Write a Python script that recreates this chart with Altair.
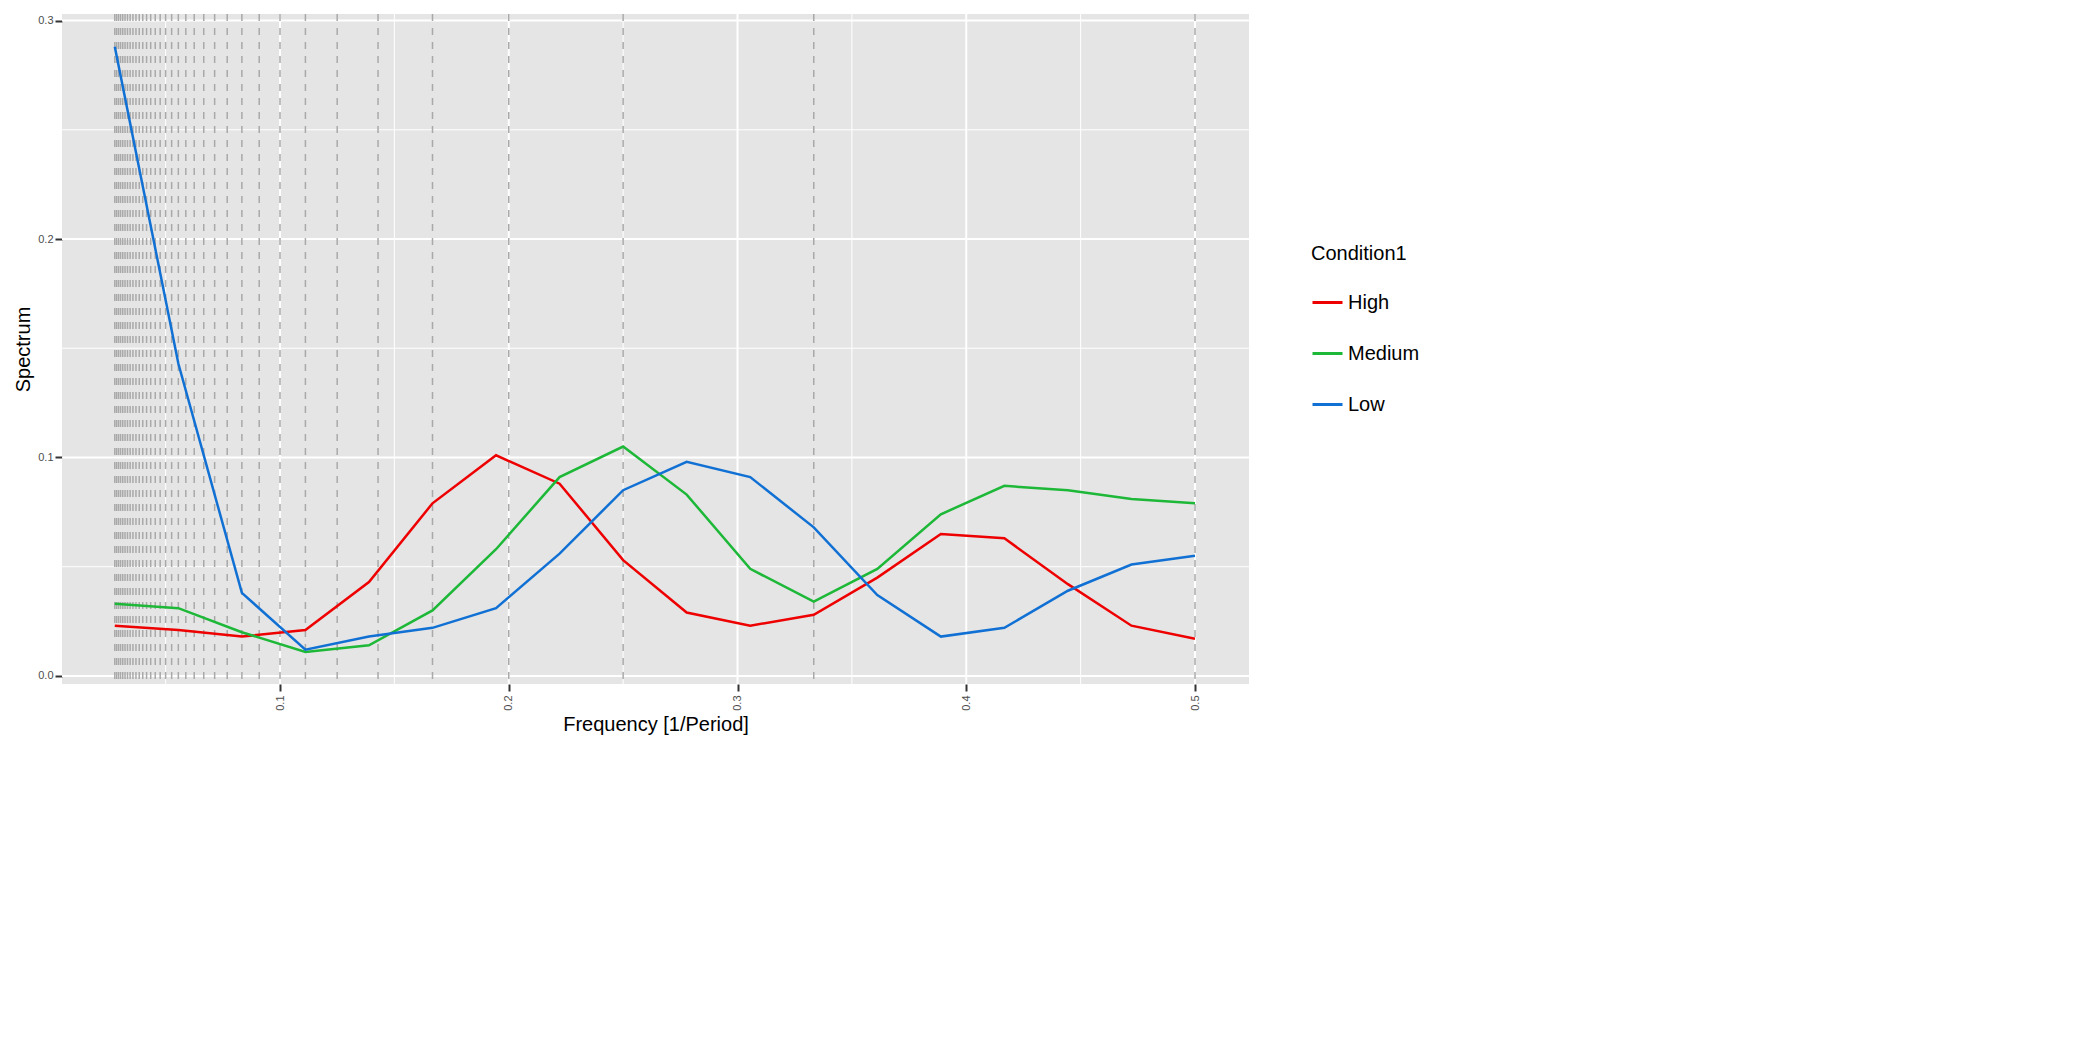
import altair as alt
import pandas as pd

freq = [k/36 for k in range(1, 19)]
high = [0.023,0.021,0.018,0.021,0.043,0.079,0.101,0.088,0.053,0.029,0.023,0.028,0.045,0.065,0.063,0.042,0.023,0.017]
medium = [0.033,0.031,0.020,0.011,0.014,0.030,0.058,0.091,0.105,0.083,0.049,0.034,0.049,0.074,0.087,0.085,0.081,0.079]
low = [0.288,0.143,0.038,0.012,0.018,0.022,0.031,0.056,0.085,0.098,0.091,0.068,0.037,0.018,0.022,0.039,0.051,0.055]
conds = ["High", "Medium", "Low"]
colors = ["#EE0000", "#1DB837", "#1170D4"]
periods = list(range(2, 37))
x_major = [0.1, 0.2, 0.3, 0.4, 0.5]
x_minor = [0.05, 0.15, 0.25, 0.35, 0.45]
y_major = [0.0, 0.1, 0.2, 0.3]
y_minor = [0.05, 0.15, 0.25]

rows = []
for c, vals in zip(conds, [high, medium, low]):
    for f, v in zip(freq, vals):
        rows.append({"f": f, "s": v, "Condition1": c})
df = pd.DataFrame(rows)

W, H = 1187, 670
xs = alt.Scale(domain=[0.0047, 0.5236], nice=False, zero=False)
ys = alt.Scale(domain=[-0.0037, 0.303], nice=False, zero=False)

def vgrid(vals, w):
    return alt.Chart(pd.DataFrame({"v": vals})).mark_rule(color="white", strokeWidth=w).encode(
        x=alt.X("v:Q", scale=xs), y=alt.value(0), y2=alt.value(H))

def hgrid(vals, w):
    return alt.Chart(pd.DataFrame({"v": vals})).mark_rule(color="white", strokeWidth=w).encode(
        y=alt.Y("v:Q", scale=ys), x=alt.value(0), x2=alt.value(W))

dashes = alt.Chart(pd.DataFrame({"v": [1/p for p in periods]})).mark_rule(
    color="#A9A9A9", strokeWidth=1.5, strokeDash=[7, 7]).encode(
    x=alt.X("v:Q", scale=xs), y=alt.value(0), y2=alt.value(H))

lines = alt.Chart(df).mark_line(strokeWidth=2.5).encode(
    x=alt.X("f:Q", scale=xs, title="Frequency [1/Period]",
            axis=alt.Axis(values=x_major, format=".1f", labelAngle=270, grid=False, domain=False,
                          tickColor="#333333", tickWidth=2, tickSize=7, labelColor="#4D4D4D",
                          labelFontSize=11, titleFontSize=20, titleFontWeight="normal",
                          titleColor="black", labelPadding=4)),
    y=alt.Y("s:Q", scale=ys, title="Spectrum",
            axis=alt.Axis(values=y_major, format=".1f", grid=False, domain=False,
                          tickColor="#333333", tickWidth=2, tickSize=7, labelColor="#4D4D4D",
                          labelFontSize=11, titleFontSize=20, titleFontWeight="normal",
                          titleColor="black")),
    color=alt.Color("Condition1:N", scale=alt.Scale(domain=conds, range=colors), sort=conds,
                    legend=alt.Legend(symbolType="stroke", symbolStrokeWidth=3, symbolSize=900,
                                      titleFontSize=20, titleFontWeight="normal", labelFontSize=20,
                                      rowPadding=24, titlePadding=22, orient="none",
                                      legendX=W + 62, legendY=230,
                                      titleColor="black", labelColor="black")),
    detail="Condition1:N")

chart = alt.layer(vgrid(x_minor, 1), hgrid(y_minor, 1), vgrid(x_major, 2), hgrid(y_major, 2),
                  dashes, lines).properties(width=W, height=H).configure(
    font="Liberation Sans", background="white").configure_view(fill="#E5E5E5", stroke=None)

chart.save("out.html", embed_options={"renderer": "svg", "actions": False})
